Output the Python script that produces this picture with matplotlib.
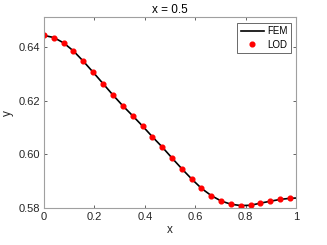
import matplotlib
matplotlib.use("Agg")
import matplotlib.pyplot as plt

plt.rcParams['font.family'] = ['Liberation Sans', 'DejaVu Sans']

# LOD sample points
x_lod = [0.0, 0.039, 0.078, 0.117, 0.156, 0.195, 0.234, 0.273, 0.312, 0.352,
         0.391, 0.430, 0.469, 0.508, 0.547, 0.586, 0.625, 0.664, 0.703, 0.742,
         0.781, 0.820, 0.859, 0.898, 0.938, 0.977]
y_lod = [0.6443, 0.6435, 0.6415, 0.6385, 0.6347, 0.6306, 0.6264, 0.6222, 0.6182, 0.6144,
         0.6106, 0.6066, 0.6028, 0.5987, 0.5947, 0.5909, 0.5874, 0.5847, 0.5827, 0.5815,
         0.5810, 0.5811, 0.5819, 0.5826, 0.5833, 0.5837]

# FEM reference curve
x_fem = x_lod + [1.0]
y_fem = y_lod + [0.5838]

xticks = [0, 0.2, 0.4, 0.6, 0.8, 1]
xtick_labels = ["0", "0.2", "0.4", "0.6", "0.8", "1"]
yticks = [0.58, 0.60, 0.62, 0.64]
ytick_labels = ["0.58", "0.60", "0.62", "0.64"]

fig = plt.figure(figsize=(3.27, 2.45), dpi=100)
ax = fig.add_axes([0.1346, 0.150, 0.7704, 0.779])

ax.plot(x_fem, y_fem, color="black", lw=1.2, label="FEM")
ax.plot(x_lod, y_lod, "o", color="red", ms=3.4, mec="red", label="LOD")

ax.set_xlim(0, 1)
ax.set_ylim(0.58, 0.651)
ax.set_xticks(xticks)
ax.set_xticklabels(xtick_labels)
ax.set_yticks(yticks)
ax.set_yticklabels(ytick_labels)
ax.tick_params(direction="in", top=True, right=True, length=2.5, width=0.5,
               labelsize=8, colors="#262626", pad=3)
for s in ax.spines.values():
    s.set_color("#a0a0a0")
    s.set_linewidth(0.8)

ax.set_xlabel("x", fontsize=8.5, color="#262626", labelpad=1)
ax.set_ylabel("y", fontsize=8.5, color="#262626", labelpad=3)
ax.set_title("x = 0.5", fontsize=8.5, color="black", pad=3)

leg = ax.legend(loc="upper right", fontsize=7, frameon=True, fancybox=False,
                edgecolor="#262626", handlelength=2.4, handletextpad=0.3,
                borderpad=0.35, labelspacing=0.35, borderaxespad=0.55)
leg.get_frame().set_linewidth(0.6)

fig.savefig("out.png", dpi=100)
